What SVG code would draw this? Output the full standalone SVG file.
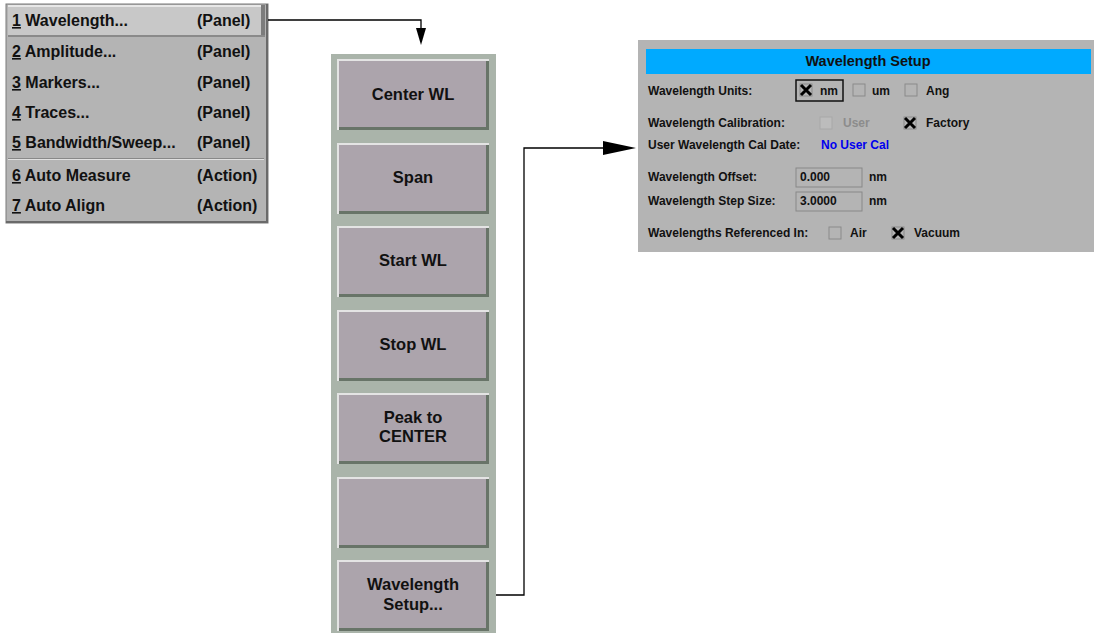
<svg xmlns="http://www.w3.org/2000/svg" width="1094" height="633" viewBox="0 0 1094 633">
<defs>
<style>
.mt{font-family:"Liberation Sans",Arial,sans-serif;font-weight:bold;font-size:16px;fill:#111}
.sk{font-family:"Liberation Sans",Arial,sans-serif;font-weight:bold;font-size:16.5px;fill:#111;text-anchor:middle}
.dt{font-family:"Liberation Sans",Arial,sans-serif;font-weight:bold;font-size:12px;fill:#111}
.btn{fill:#aca4ac}
.hl{fill:#e4e4e4}
.sh{fill:#687468}
.cb{fill:#b4b4b4;stroke:#8a8a8a;stroke-width:1}
.conn{fill:none;stroke:#000;stroke-width:1.3}
</style>
</defs>
<rect width="1094" height="633" fill="#fff"/>

<g id="menu">
<rect x="6" y="4" width="262" height="219" fill="#b4b4b4"/>
<rect x="6" y="4" width="262" height="219" fill="none" stroke="#7a7a7a" stroke-width="1"/>
<rect x="6" y="221" width="262" height="2" fill="#6a6a6a"/>
<rect x="266" y="4" width="2" height="219" fill="#6a6a6a"/>
<rect x="8" y="5" width="256" height="31" fill="#c8c8c8"/>
<rect x="8" y="5" width="256" height="2" fill="#e8e8e8"/>
<rect x="261" y="5" width="4" height="31" fill="#7c7c7c"/>
<rect x="8" y="35" width="257" height="2" fill="#8a8a8a"/>
<rect x="8" y="158" width="256" height="1" fill="#888"/>
<rect x="8" y="159" width="256" height="1" fill="#e0e0e0"/>
<text class="mt" x="12" y="26"><tspan text-decoration="underline">1</tspan> Wavelength...</text><text class="mt" x="197" y="26">(Panel)</text>
<text class="mt" x="12" y="57"><tspan text-decoration="underline">2</tspan> Amplitude...</text><text class="mt" x="197" y="57">(Panel)</text>
<text class="mt" x="12" y="88"><tspan text-decoration="underline">3</tspan> Markers...</text><text class="mt" x="197" y="88">(Panel)</text>
<text class="mt" x="12" y="118"><tspan text-decoration="underline">4</tspan> Traces...</text><text class="mt" x="197" y="118">(Panel)</text>
<text class="mt" x="12" y="148"><tspan text-decoration="underline">5</tspan> Bandwidth/Sweep...</text><text class="mt" x="197" y="148">(Panel)</text>
<text class="mt" x="12" y="181"><tspan text-decoration="underline">6</tspan> Auto Measure</text><text class="mt" x="197" y="181">(Action)</text>
<text class="mt" x="12" y="211"><tspan text-decoration="underline">7</tspan> Auto Align</text><text class="mt" x="197" y="211">(Action)</text>
</g>

<g id="softkeys">
<rect x="331" y="54" width="165" height="579" fill="#aab4aa"/>
<g id="sk1"><rect class="hl" x="337" y="59" width="152" height="71"/><rect class="sh" x="339" y="61" width="150" height="69"/><rect class="btn" x="339" y="61" width="147" height="66"/><text class="sk" x="413" y="100">Center WL</text></g>
<g id="sk2"><rect class="hl" x="337" y="143" width="152" height="71"/><rect class="sh" x="339" y="145" width="150" height="69"/><rect class="btn" x="339" y="145" width="147" height="66"/><text class="sk" x="413" y="183">Span</text></g>
<g id="sk3"><rect class="hl" x="337" y="226" width="152" height="71"/><rect class="sh" x="339" y="228" width="150" height="69"/><rect class="btn" x="339" y="228" width="147" height="66"/><text class="sk" x="413" y="266">Start WL</text></g>
<g id="sk4"><rect class="hl" x="337" y="310" width="152" height="71"/><rect class="sh" x="339" y="312" width="150" height="69"/><rect class="btn" x="339" y="312" width="147" height="66"/><text class="sk" x="413" y="350">Stop WL</text></g>
<g id="sk5"><rect class="hl" x="337" y="393" width="152" height="71"/><rect class="sh" x="339" y="395" width="150" height="69"/><rect class="btn" x="339" y="395" width="147" height="66"/><text class="sk" x="413" y="423">Peak to</text><text class="sk" x="413" y="442">CENTER</text></g>
<g id="sk6"><rect class="hl" x="337" y="477" width="152" height="71"/><rect class="sh" x="339" y="479" width="150" height="69"/><rect class="btn" x="339" y="479" width="147" height="66"/></g>
<g id="sk7"><rect class="hl" x="337" y="560" width="152" height="71"/><rect class="sh" x="339" y="562" width="150" height="69"/><rect class="btn" x="339" y="562" width="147" height="66"/><text class="sk" x="413" y="590">Wavelength</text><text class="sk" x="413" y="610">Setup...</text></g>
</g>

<g id="dialog">
<rect x="638" y="40" width="456" height="212" fill="#b4b4b4"/>
<rect x="646" y="49" width="445" height="25" fill="#00aaff"/>
<text class="dt" x="868" y="66" text-anchor="middle" style="font-size:14.5px">Wavelength Setup</text>
<text class="dt" x="648" y="95">Wavelength Units:</text>
<rect x="796" y="80" width="47" height="21" fill="none" stroke="#111" stroke-width="1.5"/>
<rect class="cb" x="800" y="84" width="12" height="12" fill="#c8c8c8"/>
<path d="M801,85 L811,95 M811,85 L801,95" stroke="#000" stroke-width="3"/>
<text class="dt" x="820" y="95">nm</text>
<rect class="cb" x="853" y="84" width="12" height="12"/><text class="dt" x="872" y="95">um</text>
<rect class="cb" x="905" y="84" width="12" height="12"/><text class="dt" x="926" y="95">Ang</text>
<text class="dt" x="648" y="127">Wavelength Calibration:</text>
<rect x="820" y="117" width="12" height="12" fill="#bcbcbc" stroke="#a8a8a8"/><text class="dt" x="843" y="127" style="fill:#8c8c8c">User</text>
<rect class="cb" x="904" y="117" width="12" height="12" fill="#d0d0d0"/>
<path d="M905,118 L915,128 M915,118 L905,128" stroke="#000" stroke-width="3"/>
<text class="dt" x="926" y="127">Factory</text>
<text class="dt" x="648" y="149">User Wavelength Cal Date:</text>
<text class="dt" x="821" y="149" style="fill:#0000ee">No User Cal</text>
<text class="dt" x="648" y="181">Wavelength Offset:</text>
<rect x="796" y="168" width="66" height="19" fill="#b4b4b4" stroke="#888"/>
<text class="dt" x="800" y="181">0.000</text><text class="dt" x="869" y="181">nm</text>
<text class="dt" x="648" y="205">Wavelength Step Size:</text>
<rect x="796" y="192" width="66" height="19" fill="#b4b4b4" stroke="#888"/>
<text class="dt" x="800" y="205">3.0000</text><text class="dt" x="869" y="205">nm</text>
<text class="dt" x="648" y="237">Wavelengths Referenced In:</text>
<rect class="cb" x="829" y="227" width="12" height="12"/><text class="dt" x="850" y="237">Air</text>
<rect class="cb" x="892" y="227" width="12" height="12" fill="#d0d0d0"/>
<path d="M893,228 L903,238 M903,228 L893,238" stroke="#000" stroke-width="3"/>
<text class="dt" x="914" y="237">Vacuum</text>
</g>

<g id="connectors">
<path class="conn" d="M268,20 H421 V30"/>
<path d="M416,28 L426,28 L421,45 Z" fill="#000"/>
<path class="conn" d="M496,595 H524 V148 H605"/>
<path d="M603,141 L636,148 L603,155 Z" fill="#000"/>
</g>
</svg>
